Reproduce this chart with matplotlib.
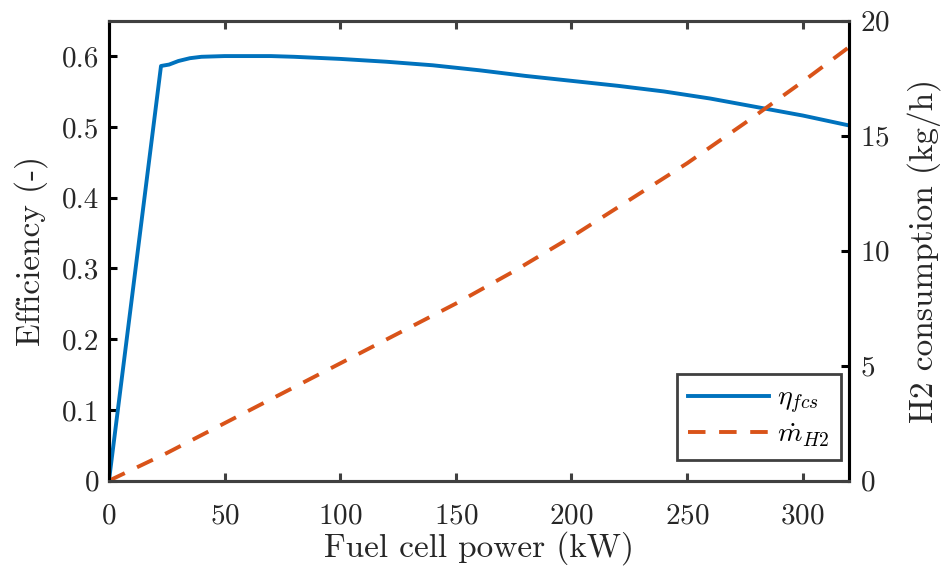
import matplotlib.pyplot as plt

plt.rcParams['font.family'] = 'cmr10'
plt.rcParams['mathtext.fontset'] = 'cm'
plt.rcParams['axes.formatter.use_mathtext'] = True

# fuel cell system efficiency curve
power_eta = [0, 22.5, 26, 30, 35, 40, 50, 60, 70, 80, 100, 120, 140, 160,
             180, 200, 220, 240, 260, 280, 300, 320]
eta_fcs = [0, 0.586, 0.588, 0.593, 0.597, 0.599, 0.600, 0.600, 0.600, 0.599,
           0.596, 0.592, 0.587, 0.580, 0.572, 0.565, 0.558, 0.550, 0.540,
           0.528, 0.516, 0.502]

# hydrogen mass flow
power_h2 = [0, 25, 50, 75, 100, 125, 150, 175, 200, 225, 250, 275, 300, 320]
m_h2 = [0, 1.2, 2.5, 3.8, 5.1, 6.4, 7.7, 9.1, 10.6, 12.2, 13.8, 15.55, 17.35,
        18.85]

x_ticks = [0, 50, 100, 150, 200, 250, 300]
eta_ticks = [0, 0.1, 0.2, 0.3, 0.4, 0.5, 0.6]
eta_labels = ['0', '0.1', '0.2', '0.3', '0.4', '0.5', '0.6']
h2_ticks = [0, 5, 10, 15, 20]

blue = '#0072BD'
orange = '#D95319'
gray = '#404040'
text_gray = '#262626'

fig = plt.figure(figsize=(9.41, 5.70), dpi=100)
ax = fig.add_axes([0.1158, 0.1567, 0.7864, 0.807])
ax2 = ax.twinx()

l1, = ax.plot(power_eta, eta_fcs, color=blue, lw=2.8, label=r'$\eta_{fcs}$')
l2, = ax2.plot(power_h2, m_h2, color=orange, lw=2.8, ls=(0, (4.5, 3.5)),
               label=r'$\dot{m}_{H2}$')

ax.set_xlim(0, 320)
ax.set_ylim(0, 0.65)
ax2.set_ylim(0, 20)
ax.set_xticks(x_ticks)
ax.set_yticks(eta_ticks, eta_labels)
ax2.set_yticks(h2_ticks)

for a in (ax, ax2):
    a.spines['top'].set_color(gray)
    a.spines['bottom'].set_color(gray)
    a.spines['left'].set_color('black')
    a.spines['right'].set_color('black')
    for s in a.spines.values():
        s.set_linewidth(2.2)
ax.tick_params(axis='x', direction='in', length=6, width=2.2, color=gray,
               top=True, labelsize=21, pad=16, labelcolor=text_gray)
ax.tick_params(axis='y', direction='in', length=6, width=2.2, color='black',
               labelsize=21, pad=7, labelcolor=text_gray)
ax2.tick_params(axis='y', direction='in', length=6, width=2.2, color='black',
                labelsize=21, pad=8, labelcolor=text_gray)

ax.set_xlabel('Fuel cell power (kW)', fontsize=24, color=text_gray, labelpad=1)
ax.set_ylabel('Efficiency (-)', fontsize=24, color=text_gray, labelpad=10)
ax2.set_ylabel('H2 consumption (kg/h)', fontsize=24, color=text_gray,
               labelpad=12)

leg = ax2.legend(handles=[l1, l2], loc='lower right',
                 bbox_to_anchor=(0.9892, 0.045), borderaxespad=0,
                 fontsize=20, fancybox=False, framealpha=1, edgecolor=gray,
                 handlelength=2.9, handletextpad=0.3, labelspacing=0.2,
                 borderpad=0.4)
leg.get_frame().set_linewidth(2)

fig.savefig('out.png', dpi=100)
